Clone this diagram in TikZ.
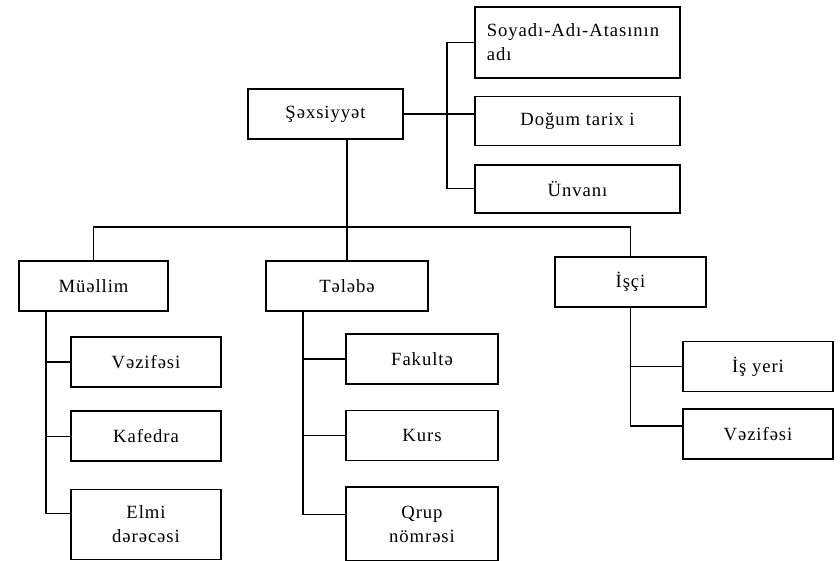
\documentclass[tikz,border=0pt]{standalone}
\usepackage{fontspec}
\setmainfont{Liberation Serif}[LetterSpace=5]
\usetikzlibrary{positioning}

\begin{document}
\begin{tikzpicture}[
    x=0.75pt, y=-0.75pt,
    box/.style={rectangle, draw, line width=1.1pt, minimum height=37.5pt, align=center, inner sep=2pt, font=\fontsize{14}{18}\selectfont},
    link/.style={line width=0.8pt},
    node distance=18pt
]
    \useasboundingbox (0,0) rectangle (840,561);

    % Root
    \node[box, minimum width=116pt] (sexs) at (325.5,114) {Şəxsiyyət};

    % Personal data
    \node[box, minimum width=153.75pt, minimum height=53.25pt, text width=136pt, align=left] (soyadi) at (577.5,42.5) {Soyadı-Adı-Atasının\\adı};
    \node[box, minimum width=153.75pt, minimum height=36.75pt, below=12.75pt of soyadi] (dogum) {Doğum tarix i};
    \node[box, minimum width=153.75pt, minimum height=36pt, below=13.5pt of dogum] (unvan) {Ünvanı};

    % Kinds of persons
    \node[box, minimum width=111.75pt] (muel) at (93.5,286) {Müəllim};
    \node[box, minimum width=121.5pt] (teleb) at (347,286) {Tələbə};
    \node[box, minimum width=113.25pt] (isci) at (630.5,282) {İşçi};

    % Teacher
    \node[box, minimum width=112.5pt] (mvez) at (146,362) {Vəzifəsi};
    \node[box, minimum width=112.5pt, below=17pt of mvez] (kafedra) {Kafedra};
    \node[box, minimum width=112.5pt, minimum height=52.5pt, below=20pt of kafedra] (elmi) {Elmi\\dərəcəsi};

    % Student
    \node[box, minimum width=114pt] (fakulte) at (422,359) {Fakultə};
    \node[box, minimum width=114pt, below=18.75pt of fakulte] (kurs) {Kurs};
    \node[box, minimum width=114pt, minimum height=55.5pt, below=18.75pt of kurs] (qrup) {Qrup\\nömrəsi};

    % Worker
    \node[box, minimum width=112.5pt] (isyeri) at (758,366.5) {İş yeri};
    \node[box, minimum width=112.5pt, below=12pt of isyeri] (ivez) {Vəzifəsi};

    % Connectors
    \coordinate (bus) at (0,227);
    \coordinate (rtrunk) at (447,0);
    \coordinate (mtrunk) at (46,0);
    \coordinate (ttrunk) at (303,0);

    \draw[link] (sexs.east) -- (sexs.east -| dogum.west);
    \draw[link] (soyadi.west) -| (rtrunk |- unvan.west) -- (unvan.west);

    \draw[link] (teleb.north) -- (teleb.north |- sexs.south);
    \draw[link] (muel.north) |- (bus -| isci.north) -- (isci.north);

    \draw[link] (muel.south -| mtrunk) |- ([yshift=8pt]elmi.west);
    \foreach \n in {mvez, kafedra}
        \draw[link] (\n.west) -- (\n.west -| mtrunk);

    \draw[link] (teleb.south -| ttrunk) |- ([yshift=7pt]qrup.west);
    \foreach \n in {fakulte, kurs}
        \draw[link] (\n.west) -- (\n.west -| ttrunk);

    \draw[link] (isci.south) |- ([yshift=6pt]ivez.west);
    \draw[link] (isyeri.west) -- (isyeri.west -| isci.south);

\end{tikzpicture}
\end{document}
